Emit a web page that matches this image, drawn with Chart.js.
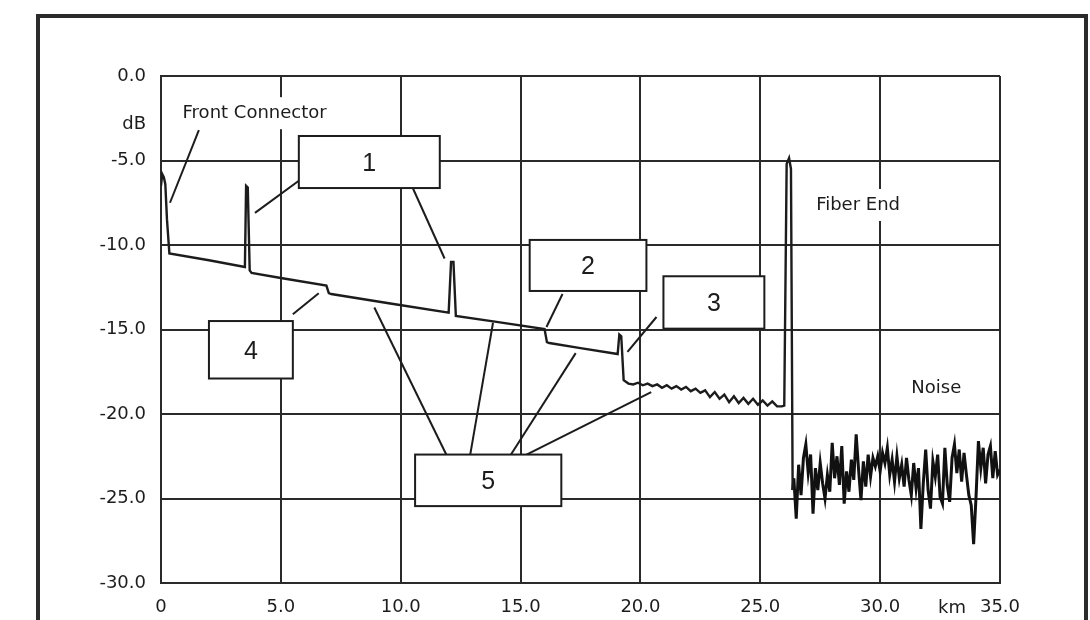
<!DOCTYPE html>
<html>
<head>
<meta charset="utf-8">
<script src="https://cdn.jsdelivr.net/npm/chart.js@4.4.1/dist/chart.umd.min.js"></script>
<style>
  html, body { margin: 0; padding: 0; background: #fff; }
</style>
</head>
<body>
<canvas id="otdr" width="1090" height="620"></canvas>
<script>
// OTDR trace (km, dB)
const traceKm = [0, 0.05, 0.12, 0.18, 0.25, 0.35, 2.0, 3.5, 3.55, 3.62, 3.7, 3.78, 5.0, 6.9, 7.0, 7.1,
  9.5, 12.0, 12.1, 12.2, 12.3, 14.0, 16.0, 16.1, 16.2, 17.5, 19.05, 19.12, 19.2, 19.3, 19.5,
  19.7, 19.9, 20.1, 20.3, 20.5, 20.7, 20.9, 21.1, 21.3, 21.5, 21.7, 21.9, 22.1, 22.3, 22.5,
  22.7, 22.9, 23.1, 23.3, 23.5, 23.7, 23.9, 24.1, 24.3, 24.5, 24.7, 24.9, 25.1, 25.3, 25.5,
  25.7, 25.9, 26.0, 26.1, 26.2, 26.28, 26.35];
const traceDb = [-6.5, -5.8, -6.0, -6.4, -8.5, -10.5, -10.9, -11.3, -6.5, -6.6, -11.5, -11.65, -11.95, -12.4, -12.85, -12.9,
  -13.45, -14.0, -11.0, -11.0, -14.2, -14.55, -14.97, -15.75, -15.8, -16.1, -16.45, -15.3, -15.4, -18.0, -18.2,
  -18.25, -18.15, -18.3, -18.2, -18.35, -18.25, -18.45, -18.3, -18.5, -18.35, -18.55, -18.4, -18.65, -18.5, -18.75,
  -18.6, -19.0, -18.7, -19.1, -18.85, -19.3, -18.95, -19.35, -19.05, -19.4, -19.1, -19.45, -19.2, -19.5, -19.25,
  -19.55, -19.55, -19.5, -5.2, -4.85, -5.5, -24.5];

const noiseKm = [26.35, 26.4, 26.5, 26.6, 26.7, 26.8, 26.9, 27.0, 27.1, 27.2, 27.3, 27.4, 27.5, 27.6, 27.7, 27.8, 27.9,
  28.0, 28.1, 28.2, 28.3, 28.4, 28.5, 28.6, 28.7, 28.8, 28.9, 29.0, 29.1, 29.2, 29.3, 29.4, 29.5, 29.6, 29.7, 29.8, 29.9,
  30.0, 30.1, 30.2, 30.3, 30.4, 30.5, 30.6, 30.7, 30.8, 30.9, 31.0, 31.1, 31.2, 31.3, 31.4, 31.5, 31.6, 31.7, 31.8, 31.9,
  32.0, 32.1, 32.2, 32.3, 32.4, 32.5, 32.6, 32.7, 32.8, 32.9, 33.0, 33.1, 33.2, 33.3, 33.4, 33.5, 33.6, 33.7, 33.8, 33.9,
  34.0, 34.1, 34.2, 34.3, 34.4, 34.5, 34.6, 34.7, 34.8, 34.9, 35.0];
const noiseDb = [-24.5, -23.8, -26.2, -23.0, -24.8, -22.6, -21.8, -23.5, -22.4, -25.9, -23.2, -24.5, -22.9, -24.1, -25.0, -23.6, -24.6,
  -21.7, -23.8, -22.5, -24.2, -21.9, -25.3, -23.4, -24.6, -22.7, -23.9, -21.2, -23.3, -25.1, -22.8, -24.3, -22.4, -23.7, -22.6, -23.1, -22.5,
  -23.4, -22.3, -22.9, -22.0, -23.6, -22.7, -24.0, -22.5, -23.8, -23.0, -24.3, -22.6, -23.9, -24.8, -22.9, -24.4, -23.2, -26.8, -24.1, -22.1,
  -24.5, -25.6, -22.8, -23.7, -22.4, -24.9, -25.3, -22.0, -24.2, -25.2, -22.6, -21.8, -23.5, -22.1, -24.0, -22.3, -23.6, -24.8, -25.4, -27.7,
  -24.9, -21.6, -23.2, -22.0, -24.1, -22.4, -21.9, -23.8, -22.2, -23.6, -23.3];

const xTickLabels = ['0', '5.0', '10.0', '15.0', '20.0', '25.0', '30.0', '35.0'];
const yTickLabels = ['0.0', '-5.0', '-10.0', '-15.0', '-20.0', '-25.0', '-30.0'];

// callout boxes and leader lines, in data units
const boxes = [
  { label: '1', x0: 5.75, x1: 11.63, y0: -3.55, y1: -6.63 },
  { label: '2', x0: 15.38, x1: 20.25, y0: -9.7, y1: -12.72 },
  { label: '3', x0: 20.96, x1: 25.17, y0: -11.85, y1: -14.95 },
  { label: '4', x0: 2.0, x1: 5.5, y0: -14.5, y1: -17.9 },
  { label: '5', x0: 10.6, x1: 16.7, y0: -22.4, y1: -25.45 }
];
const leaders = [
  [1.58, -3.2, 0.375, -7.5],
  [5.75, -6.2, 3.92, -8.1],
  [10.4, -6.3, 11.83, -10.8],
  [5.5, -14.1, 6.58, -12.85],
  [16.75, -12.9, 16.08, -14.85],
  [20.67, -14.26, 19.46, -16.33],
  [11.9, -22.4, 8.9, -13.7],
  [12.9, -22.4, 13.85, -14.6],
  [14.6, -22.4, 17.3, -16.4],
  [15.25, -22.4, 20.45, -18.7]
];
const notes = [
  { text: 'Front Connector', x: 0.9, y: -2.2 },
  { text: 'Fiber End', x: 27.33, y: -7.63 },
  { text: 'Noise', x: 31.3, y: -18.46 }
];

const FONT = '"DejaVu Sans", "Liberation Sans", Arial, sans-serif';
const BOXFONT = '"Liberation Sans", Arial, sans-serif';
const INK = '#1c1c1c';

const otdrDecor = {
  id: 'otdrDecor',
  beforeDraw(chart) {
    const ctx = chart.ctx;
    ctx.save();
    ctx.fillStyle = '#fff';
    ctx.fillRect(0, 0, chart.width, chart.height);
    // scanned page frame
    ctx.strokeStyle = '#2b2b2b';
    ctx.lineWidth = 4;
    ctx.beginPath();
    ctx.moveTo(38, 620); ctx.lineTo(38, 16); ctx.lineTo(1086, 16); ctx.lineTo(1086, 620);
    ctx.stroke();
    ctx.restore();
  },
  afterDatasetsDraw(chart) {
    const ctx = chart.ctx;
    const xs = chart.scales.x, ys = chart.scales.y;
    const X = v => xs.getPixelForValue(v);
    const Y = v => ys.getPixelForValue(v);
    ctx.save();

    // free text notes, with a white patch that breaks the grid like the scan
    ctx.font = '18px ' + FONT;
    ctx.textBaseline = 'middle';
    ctx.textAlign = 'left';
    notes.forEach(n => {
      const w = ctx.measureText(n.text).width;
      ctx.fillStyle = '#fff';
      ctx.fillRect(X(n.x) - 4, Y(n.y) - 16, w + 8, 32);
      ctx.fillStyle = INK;
      ctx.fillText(n.text, X(n.x), Y(n.y));
    });

    // leader lines
    ctx.strokeStyle = INK;
    ctx.lineWidth = 2;
    leaders.forEach(l => {
      ctx.beginPath();
      ctx.moveTo(X(l[0]), Y(l[1]));
      ctx.lineTo(X(l[2]), Y(l[3]));
      ctx.stroke();
    });

    // numbered boxes
    boxes.forEach(b => {
      const x0 = X(b.x0), x1 = X(b.x1), y0 = Y(b.y0), y1 = Y(b.y1);
      ctx.fillStyle = '#fff';
      ctx.fillRect(x0, y0, x1 - x0, y1 - y0);
      ctx.strokeStyle = INK;
      ctx.lineWidth = 2;
      ctx.strokeRect(x0, y0, x1 - x0, y1 - y0);
      ctx.fillStyle = INK;
      ctx.font = '25px ' + BOXFONT;
      ctx.textAlign = 'center';
      ctx.fillText(b.label, (x0 + x1) / 2, (y0 + y1) / 2 + 2);
    });

    // unit labels
    ctx.font = '18px ' + FONT;
    ctx.fillStyle = INK;
    ctx.textAlign = 'right';
    ctx.fillText('dB', chart.chartArea.left - 15, Y(-2.85));
    ctx.textAlign = 'center';
    ctx.fillText('km', X(33.0), chart.chartArea.bottom + 25);
    ctx.restore();
  }
};

const chart = new Chart(document.getElementById('otdr').getContext('2d'), {
  type: 'scatter',
  data: {
    datasets: [
      {
        data: traceKm.map((k, i) => ({ x: k, y: traceDb[i] })),
        showLine: true,
        borderColor: INK,
        borderWidth: 2.4,
        pointRadius: 0,
        tension: 0
      },
      {
        data: noiseKm.map((k, i) => ({ x: k, y: noiseDb[i] })),
        showLine: true,
        borderColor: '#111',
        borderWidth: 3,
        pointRadius: 0,
        tension: 0
      }
    ]
  },
  options: {
    responsive: false,
    animation: false,
    layout: { padding: { left: 0, right: 90, top: 76, bottom: 0 } },
    plugins: { legend: { display: false }, tooltip: { enabled: false } },
    scales: {
      x: {
        type: 'linear',
        min: 0, max: 35,
        afterFit: s => { s.height = 37; },
        grid: { color: '#2a2a2a', lineWidth: 2, drawTicks: false },
        border: { color: '#2a2a2a', width: 2 },
        ticks: {
          stepSize: 5, padding: 14, color: INK, maxRotation: 0,
          font: { family: FONT, size: 18 },
          callback: v => xTickLabels[Math.round(v / 5)]
        }
      },
      y: {
        min: -30, max: 0,
        afterFit: s => { s.width = 161; },
        grid: { color: '#2a2a2a', lineWidth: 2, drawTicks: false },
        border: { color: '#2a2a2a', width: 2 },
        ticks: {
          stepSize: 5, padding: 15, color: INK,
          font: { family: FONT, size: 18 },
          callback: v => yTickLabels[Math.round(-v / 5)]
        }
      }
    }
  },
  plugins: [otdrDecor]
});
</script>
</body>
</html>
